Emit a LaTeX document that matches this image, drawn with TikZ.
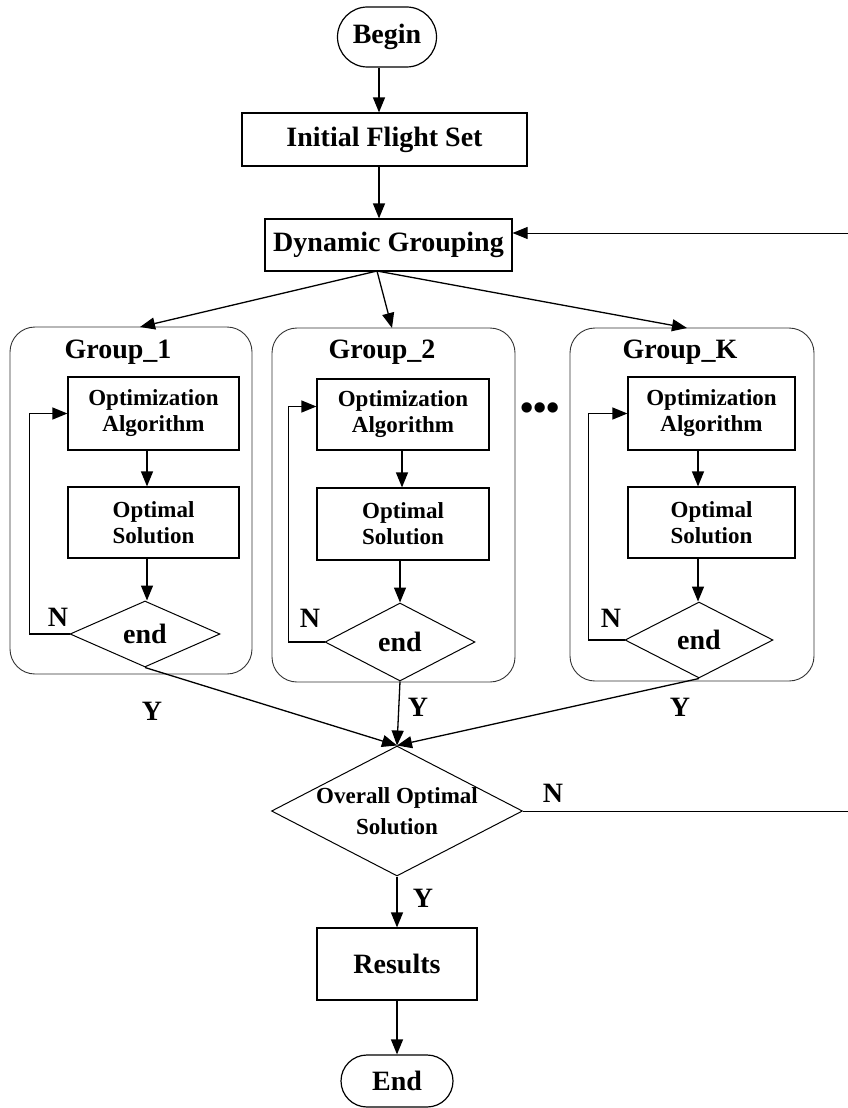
\documentclass[tikz,border=0pt]{standalone}
\usepackage{fontspec}
\setmainfont{Liberation Serif}
\usetikzlibrary{shapes.geometric,arrows.meta}
\begin{document}
\begin{tikzpicture}[x=1pt,y=-1pt,
  every node/.style={font=\bfseries},
  big/.style={font=\fontsize{28}{31}\selectfont\bfseries},
  small/.style={font=\fontsize{23}{26}\selectfont\bfseries},
  box/.style={draw,line width=1.2pt,rectangle,inner sep=0pt,align=center},
  term/.style={box,rounded corners=#1},
  cond/.style={draw,line width=1pt,diamond,inner sep=0pt,align=center},
  grp/.style={draw=black!80,line width=0.9pt,rounded corners=25pt},
  tip/.style={-{Triangle[length=15pt,width=12pt]}},
  flow/.style={line width=1.3pt,tip}]
\useasboundingbox (0,0) rectangle (848,1108);
\clip (0,0) rectangle (848,1108);

% main column
\node[term=30pt,big,minimum width=99pt,minimum height=60pt] (begin) at (387,37) {Begin};
\node[box,big,minimum width=285pt,minimum height=53pt] (ifs) at (384.5,139.5) {Initial Flight Set};
\node[box,big,minimum width=247pt,minimum height=52pt] (dg) at (388.5,245) {Dynamic Grouping};

% group frames
\draw[grp] (10,327) rectangle (252,674);
\draw[grp] (272,328) rectangle (515,682);
\draw[grp] (570,328) rectangle (814,681);
\coordinate (g1) at (140,327);
\coordinate (g2) at (392,328);
\coordinate (gK) at (687,328);
\node[big] (l1) at (118,352) {Group\_1};
\node[big] (l2) at (382,352) {Group\_2};
\node[big] (lK) at (680,352) {Group\_K};
\node[font=\fontsize{38}{38}\selectfont\bfseries] (dots) at (540,412) {•••};

% group 1
\node[box,small,minimum width=171pt,minimum height=73pt] (a1) at (153.5,413.5) {Optimization\\Algorithm};
\node[box,small,minimum width=171pt,minimum height=71pt] (s1) at (153.5,522.5) {Optimal\\Solution};
\node[cond,big,minimum width=150pt,minimum height=66pt] (e1) at (145,634) {end};
% group 2
\node[box,small,minimum width=172pt,minimum height=71pt] (a2) at (403,414.5) {Optimization\\Algorithm};
\node[box,small,minimum width=172pt,minimum height=72pt] (s2) at (403,524) {Optimal\\Solution};
\node[cond,big,minimum width=150pt,minimum height=78pt] (e2) at (400,642) {end};
% group K
\node[box,small,minimum width=167pt,minimum height=73pt] (aK) at (711.5,413.5) {Optimization\\Algorithm};
\node[box,small,minimum width=167pt,minimum height=71pt] (sK) at (711.5,522.5) {Optimal\\Solution};
\node[cond,big,minimum width=148pt,minimum height=76pt] (eK) at (699,640) {end};

% merge decision: outline and its two-line text
\node[cond,minimum width=251pt,minimum height=130pt] (ov) at (397,811) {};
\node[align=center,font=\fontsize{23}{31}\selectfont\bfseries] (ovt) at (397,811) {Overall Optimal\\Solution};
\node[box,big,minimum width=160pt,minimum height=72pt] (res) at (397,964) {Results};
\node[term=26pt,big,minimum width=112pt,minimum height=52pt] (end) at (397,1081) {End};

% labels
\node[big] (n1) at (58,617) {N};
\node[big] (n2) at (310,618) {N};
\node[big] (nK) at (611,618) {N};
\node[big] (y1) at (152,711) {Y};
\node[big] (y2) at (418,707) {Y};
\node[big] (yK) at (680,707) {Y};
\node[big] (nov) at (553,793) {N};
\node[big] (yov) at (423,898) {Y};

% top connectors
\draw[flow] (begin.south -| 379,0) -- (ifs.north -| 379,0);
\draw[flow] (ifs.south -| 379,0) -- (dg.north -| 379,0);
\coordinate (dgo) at (377,271);
\draw[flow] (dgo) -- (g1);
\draw[flow] (dgo) -- (g2);
\draw[flow] (dgo) -- (gK);

% inner connectors
\draw[flow] (a1.south -| 147,0) -- (s1.north -| 147,0);
\draw[flow] (s1.south -| 147,0) -- (e1.north -| 147,0);
\draw[flow] (a2.south -| 402,0) -- (s2.north -| 402,0);
\draw[flow] (s2.south -| 400,0) -- (e2.north);
\draw[flow] (aK.south -| 698,0) -- (sK.north -| 698,0);
\draw[flow] (sK.south -| 698,0) -- (eK.north -| 698,0);

% retry loops
\draw[flow] (e1.west) -- ++(-40,0) |- (a1.west);
\draw[flow] (e2.west) -- ++(-36,0) |- ([yshift=8pt]a2.west);
\draw[flow] (eK.west) -- ++(-36,0) |- (aK.west);

% merge connectors
\draw[flow] (e1.south) -- (ov.north);
\draw[flow] (e2.south) -- (ov.north);
\draw[flow] (eK.south) -- (ov.north);

% output connectors
\draw[flow] (ov.south) -- (res.north);
\draw[flow] (res.south) -- (end.north);

% regrouping feedback
\coordinate (fb1) at (852,811);
\coordinate (fb2) at (852,233);
\draw[line width=1pt] (ov.east) -- (fb1) -- (fb2);
\draw[line width=1pt,tip] (fb2) -- (dg.east |- fb2);
\end{tikzpicture}
\end{document}
